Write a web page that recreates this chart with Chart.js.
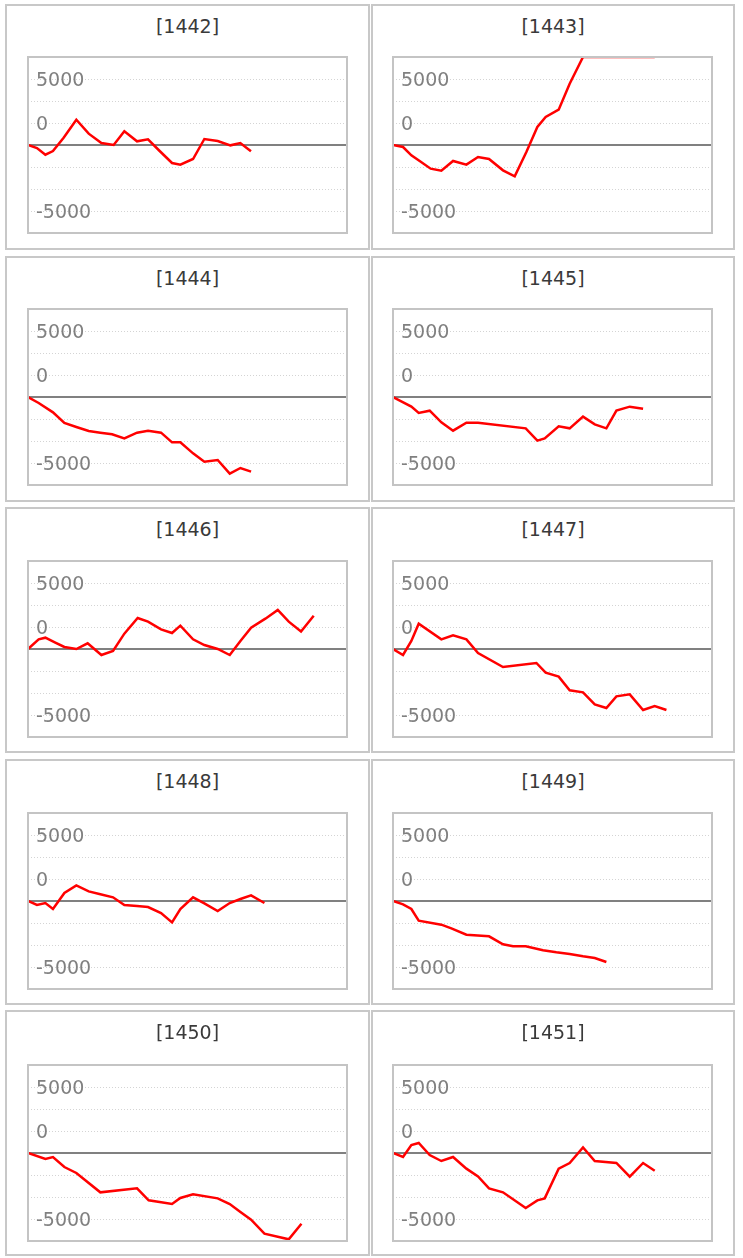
<!DOCTYPE html>
<html>
<head>
<meta charset="utf-8">
<script src="https://cdn.jsdelivr.net/npm/chart.js@4.4.1/dist/chart.umd.min.js"></script>
<style>
  body { margin: 0; background: #fff; width: 743px; height: 1258px; position: relative; overflow: hidden; font-family: 'DejaVu Sans', sans-serif; }
  .panel { position: absolute; box-sizing: border-box; border: 2px solid #c8c8c8; background: #fff; }
  .title { position: absolute; left: 0; right: 0; top: 9px; text-align: center; font-size: 19px; line-height: 23px; color: #3a3a3a; }
  .plot { position: absolute; }
</style>
</head>
<body>
<script>
// panel ids, in reading order (two per row)
const panelIds = ['1442', '1443', '1444', '1445', '1446', '1447', '1448', '1449', '1450', '1451']

// x = day position on a shared axis, y = running total
const x1442 = [0, 0.84, 1.63, 2.34, 3.34, 4.53, 5.69, 6.88, 8.03, 9.03, 10.22, 11.25, 12.34, 13.5, 14.28, 15.47, 16.53, 17.78, 18.97, 19.9, 20.9]
const y1442 = [0, -341, -1098, -682, 833, 2879, 1288, 227, 0, 1553, 417, 644, -682, -2045, -2235, -1591, 682, 455, -38, 227, -720]

const x1443 = [0, 0.94, 1.72, 2.5, 3.53, 4.53, 5.63, 6.88, 7.97, 9.0, 10.31, 11.41, 12.5, 13.53, 14.31, 15.53, 16.56, 17.81, 20.0, 22.2, 24.53]
const y1443 = [0, -227, -1174, -1818, -2689, -2917, -1818, -2235, -1364, -1591, -2879, -3561, -795, 2045, 3182, 4015, 6970, 10000, 10000, 10000, 10000]

const x1444 = [0, 1.0, 2.34, 3.41, 4.53, 5.69, 6.78, 7.88, 9.03, 10.22, 11.25, 12.47, 13.5, 14.28, 15.47, 16.53, 17.78, 18.91, 19.91, 20.91]
const y1444 = [0, -682, -1742, -2955, -3409, -3864, -4053, -4242, -4697, -4053, -3826, -4053, -5152, -5152, -6402, -7349, -7159, -8712, -8068, -8485]

const x1445 = [0, 1.72, 2.41, 3.44, 4.53, 5.63, 6.88, 7.97, 12.44, 13.53, 14.22, 15.53, 16.56, 17.81, 18.91, 20.0, 20.94, 22.19, 23.44]
const y1445 = [0, -1098, -1818, -1553, -2879, -3826, -2917, -2917, -3561, -4962, -4697, -3333, -3561, -2235, -3106, -3561, -1553, -1098, -1326]

const x1446 = [0, 1.0, 1.63, 2.56, 3.41, 4.53, 5.59, 6.88, 7.97, 9.03, 10.28, 11.25, 12.47, 13.5, 14.28, 15.47, 16.53, 17.78, 18.91, 19.91, 20.91, 22.25, 23.41, 24.44, 25.59, 26.78]
const y1446 = [0, 1098, 1288, 720, 227, 0, 644, -682, -227, 1742, 3523, 3106, 2235, 1818, 2652, 1098, 455, 0, -682, 909, 2424, 3447, 4432, 3106, 1992, 3788]

const x1447 = [0, 0.94, 1.72, 2.41, 4.53, 5.63, 6.88, 7.97, 10.31, 13.44, 14.31, 15.53, 16.56, 17.81, 18.91, 20.0, 20.94, 22.19, 23.44, 24.53, 25.63]
const y1447 = [0, -682, 909, 2879, 1098, 1553, 1098, -455, -2045, -1591, -2689, -3144, -4697, -4924, -6288, -6705, -5379, -5152, -6932, -6477, -6932]

const x1448 = [0, 0.84, 1.63, 2.34, 3.41, 4.53, 5.69, 6.78, 7.97, 9.03, 10.22, 11.25, 12.47, 13.5, 14.28, 15.47, 16.53, 17.78, 18.91, 19.91, 20.91, 22.16]
const y1448 = [0, -455, -227, -909, 909, 1780, 1098, 758, 417, -455, -568, -682, -1364, -2424, -909, 417, -265, -1136, -227, 227, 644, -227]

const x1449 = [0, 0.94, 1.72, 2.41, 4.53, 5.47, 6.88, 9.0, 10.31, 11.25, 12.44, 14.06, 15.31, 16.56, 17.81, 18.91, 20.0]
const y1449 = [0, -379, -909, -2235, -2689, -3106, -3826, -4015, -4924, -5152, -5152, -5606, -5833, -6023, -6288, -6477, -6932]

const x1450 = [0, 1.63, 2.34, 3.41, 4.53, 6.78, 10.22, 11.31, 13.5, 14.28, 15.47, 17.78, 18.91, 19.91, 20.91, 22.16, 24.44, 25.63]
const y1450 = [0, -682, -455, -1591, -2273, -4470, -4015, -5379, -5795, -5114, -4697, -5152, -5795, -6705, -7576, -9167, -9811, -8030]

const x1451 = [0, 0.94, 1.72, 2.41, 3.44, 4.53, 5.63, 6.88, 7.97, 9.0, 10.31, 12.44, 13.53, 14.22, 15.53, 16.56, 17.81, 18.91, 20.94, 22.19, 23.44, 24.53]
const y1451 = [0, -455, 909, 1136, -227, -909, -455, -1780, -2652, -4015, -4470, -6250, -5379, -5152, -1780, -1136, 644, -909, -1136, -2689, -1136, -2008]

// axis: gridlines every 2500, labels sit where the source drew them
const yMin = -10000
const yMax = 10000
const yStep = 2500
const xMax = 29.9
const tickValues = [7500, 2500, -7500]
const tickLabels = ['5000', '0', '-5000']

const series = {
  1442: [x1442, y1442], 1443: [x1443, y1443], 1444: [x1444, y1444], 1445: [x1445, y1445],
  1446: [x1446, y1446], 1447: [x1447, y1447], 1448: [x1448, y1448], 1449: [x1449, y1449],
  1450: [x1450, y1450], 1451: [x1451, y1451],
}

const PAD = 22

const framePlugin = {
  id: 'frame',
  beforeDatasetsDraw(chart) {
    const { ctx, chartArea: a, scales: { y } } = chart
    const zy = y.getPixelForValue(0)
    ctx.save()
    ctx.strokeStyle = '#808080'
    ctx.lineWidth = 2
    ctx.beginPath()
    ctx.moveTo(a.left - 1, zy)
    ctx.lineTo(a.right + 1, zy)
    ctx.stroke()
    ctx.restore()
  },
  afterDatasetsDraw(chart) {
    const { ctx, chartArea: a } = chart
    ctx.save()
    ctx.strokeStyle = '#c4c4c4'
    ctx.lineWidth = 2
    ctx.strokeRect(a.left, a.top, a.right - a.left, a.bottom - a.top)
    ctx.restore()
  },
}

panelIds.forEach((id, i) => {
  const col = i % 2
  const row = Math.floor(i / 2)

  const panel = document.createElement('div')
  panel.className = 'panel'
  panel.style.left = (col ? 371 : 5) + 'px'
  panel.style.top = Math.round(4 + 251.5 * row) + 'px'
  panel.style.width = (col ? 364 : 365) + 'px'
  panel.style.height = '246px'
  const title = document.createElement('div')
  title.className = 'title'
  title.textContent = '[' + id + ']'
  panel.appendChild(title)
  document.body.appendChild(panel)

  const box = document.createElement('div')
  box.className = 'plot'
  box.style.left = (col ? 393 : 28) - PAD + 'px'
  box.style.top = 57 + 252 * row - PAD + 'px'
  box.style.width = 319 + 2 * PAD + 'px'
  box.style.height = 176 + 2 * PAD + 'px'
  const canvas = document.createElement('canvas')
  box.appendChild(canvas)
  document.body.appendChild(box)

  const [xs, ys] = series[id]
  new Chart(canvas, {
    type: 'line',
    data: {
      datasets: [{
        data: xs.map((x, k) => ({ x, y: ys[k] })),
        borderColor: '#ff0000',
        borderWidth: 2.5,
        pointRadius: 0,
        tension: 0,
        fill: false,
      }],
    },
    options: {
      responsive: true,
      maintainAspectRatio: false,
      devicePixelRatio: 1,
      animation: false,
      events: [],
      layout: { padding: PAD },
      plugins: { legend: { display: false }, tooltip: { enabled: false } },
      scales: {
        x: { type: 'linear', min: 0, max: xMax, display: false },
        y: {
          min: yMin,
          max: yMax,
          afterFit: (s) => { s.width = 0 },
          grid: {
            drawTicks: false,
            lineWidth: 1,
            color: (c) => (c.tick && (c.tick.value === 0 || Math.abs(c.tick.value) === yMax) ? 'rgba(0,0,0,0)' : '#d4d4d4'),
          },
          border: { display: false, dash: [1, 2] },
          ticks: {
            stepSize: yStep,
            autoSkip: false,
            mirror: true,
            padding: 8,
            labelOffset: 2,
            color: '#808080',
            font: { family: 'DejaVu Sans', size: 19 },
            callback: (v) => {
              const k = tickValues.indexOf(v)
              return k < 0 ? '' : tickLabels[k]
            },
          },
        },
      },
    },
    plugins: [framePlugin],
  })
})
</script>
</body>
</html>
